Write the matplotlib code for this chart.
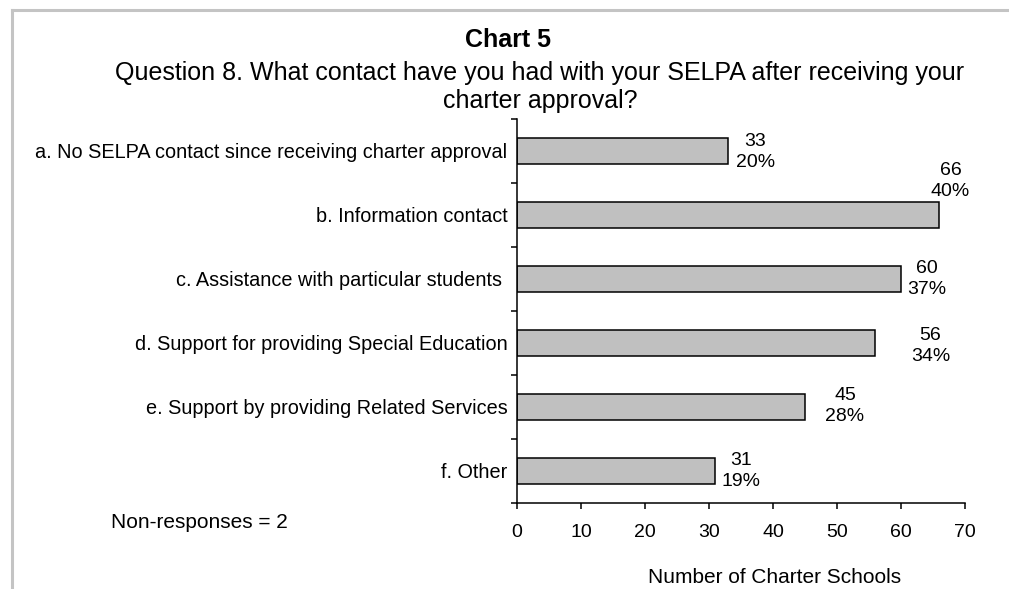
import matplotlib.pyplot as plt
from matplotlib.lines import Line2D

plt.rcParams['font.family'] = ['Liberation Sans', 'DejaVu Sans']

categories = [
    'a. No SELPA contact since receiving charter approval',
    'b. Information contact',
    'c. Assistance with particular students ',
    'd. Support for providing Special Education',
    'e. Support by providing Related Services',
    'f. Other',
]
counts = [33, 66, 60, 56, 45, 31]
percents = ['20%', '40%', '37%', '34%', '28%', '19%']

# label offsets from the bar end, in pixels (x right, y up)
label_dx = [27, 11, 26, 55, 40, 26]
label_dy = [-1, 34, 0, -3, 1, 0]

W, H = 1009, 589
fig = plt.figure(figsize=(W / 100, H / 100), dpi=100)
ax = fig.add_axes([517 / W, 1 - 503 / H, (965 - 517) / W, (503 - 119) / H])

ypos = list(range(len(categories)))
ax.barh(ypos, counts, height=0.42, color='#c0c0c0', edgecolor='black', linewidth=1.1)

for y, n, p, dx, dy in zip(ypos, counts, percents, label_dx, label_dy):
    ax.annotate(f'{n}\n{p}', (n, y), xytext=(dx, dy), textcoords='offset pixels',
                ha='center', va='center', fontsize=14, linespacing=1.3)

ax.set_xlim(0, 70)
ax.set_ylim(len(categories) - 0.5, -0.5)
ax.set_xticks(range(0, 71, 10))
ax.set_yticks(ypos)
ax.set_yticklabels(categories)
ax.set_yticks([i - 0.5 for i in range(len(categories) + 1)], minor=True)
ax.tick_params(axis='y', which='major', length=0, pad=7, labelsize=14.3)
ax.tick_params(axis='y', which='minor', length=4, width=1.1, direction='out')
ax.tick_params(axis='x', length=4, width=1.1, pad=11, labelsize=14)

for side in ('top', 'right'):
    ax.spines[side].set_visible(False)
for side in ('left', 'bottom'):
    ax.spines[side].set_linewidth(1.1)

ax.text(0.576, -0.195, 'Number of Charter Schools', transform=ax.transAxes,
        ha='center', va='center', fontsize=15)

fig.text(508 / W, 1 - 40 / H, 'Chart 5', ha='center', va='center',
         fontsize=18, fontweight='bold')
fig.text(540 / W, 1 - 87 / H,
         'Question 8. What contact have you had with your SELPA after receiving your\ncharter approval?',
         ha='center', va='center', fontsize=18, linespacing=1.25)
fig.text(199 / W, 1 - 522 / H, 'Non-responses = 2', ha='center', va='center', fontsize=15)

# light grey frame around the chart
fig.add_artist(Line2D([11.5 / W, 1], [1 - 9.5 / H, 1 - 9.5 / H], color='#c4c4c4', linewidth=2.2))
fig.add_artist(Line2D([11.5 / W, 11.5 / W], [0, 1 - 9.5 / H], color='#c4c4c4', linewidth=2.2))

fig.savefig('out.png', dpi=100)
